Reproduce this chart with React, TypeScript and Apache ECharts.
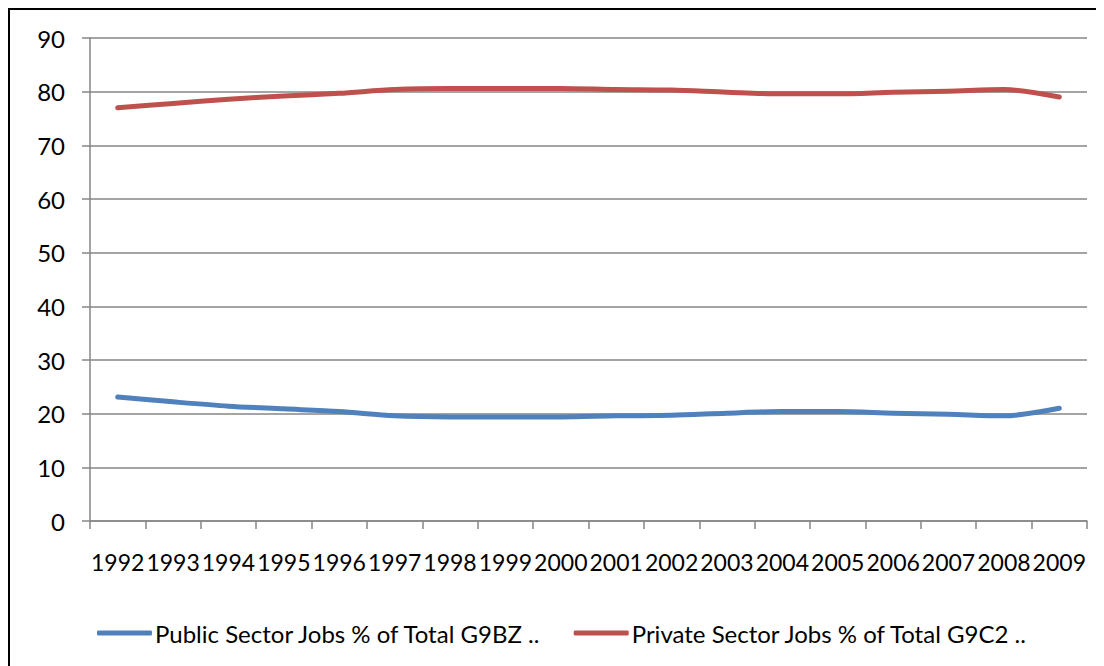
import React, { useEffect, useRef } from "react";
import * as echarts from "echarts";

const years = [
  "1992", "1993", "1994", "1995", "1996", "1997", "1998", "1999", "2000",
  "2001", "2002", "2003", "2004", "2005", "2006", "2007", "2008", "2009",
];
const publicShare = [
  23.1, 22.2, 21.4, 20.9, 20.4, 19.6, 19.4, 19.4, 19.4,
  19.6, 19.7, 20.1, 20.4, 20.4, 20.1, 19.9, 19.6, 21.0,
];
const privateShare = [
  77.0, 77.8, 78.6, 79.2, 79.7, 80.4, 80.6, 80.6, 80.6,
  80.4, 80.3, 79.9, 79.6, 79.6, 79.9, 80.1, 80.4, 79.0,
];
const seriesNames = [
  "Public Sector Jobs % of Total G9BZ ..",
  "Private Sector Jobs % of Total G9C2 ..",
];
const yMin = 0;
const yMax = 90;
const yStep = 10;

const FONT = "Lato, 'Open Sans', sans-serif";

export default function App() {
  const ref = useRef<HTMLDivElement>(null);
  useEffect(() => {
    if (!ref.current) return;
    const chart = echarts.init(ref.current, undefined, { renderer: "svg" });
    const axisGray = "#868686";
    chart.setOption({
      animation: false,
      backgroundColor: "#ffffff",
      textStyle: { fontFamily: FONT },
      grid: { left: 80, right: 17, top: 28, bottom: 145, containLabel: false },
      legend: {
        bottom: 16,
        left: 82,
        itemWidth: 55,
        itemHeight: 5,
        itemGap: 32,
        icon: "roundRect",
        textStyle: { fontFamily: FONT, fontSize: 24, color: "#000000", padding: [0, 0, 0, -2] },
        data: seriesNames,
      },
      xAxis: {
        type: "category",
        data: years,
        boundaryGap: true,
        axisLine: { show: true, lineStyle: { color: axisGray, width: 1.5 } },
        axisTick: { show: true, length: 8, alignWithLabel: false, lineStyle: { color: axisGray, width: 1.5 } },
        axisLabel: { color: "#000000", fontSize: 23, fontFamily: FONT, margin: 29, interval: 0 },
        splitLine: { show: false },
      },
      yAxis: {
        type: "value",
        min: yMin,
        max: yMax,
        interval: yStep,
        axisLine: { show: true, lineStyle: { color: axisGray, width: 1.5 } },
        axisTick: { show: true, length: 8, lineStyle: { color: axisGray, width: 1.5 } },
        axisLabel: { color: "#000000", fontSize: 24, fontFamily: FONT, margin: 25 },
        splitLine: { show: true, lineStyle: { color: axisGray, width: 1.5 } },
      },
      series: [
        {
          name: seriesNames[0],
          type: "line",
          data: publicShare,
          smooth: 0.3,
          symbol: "none",
          lineStyle: { color: "#4F81BD", width: 5, cap: "round", join: "round" },
          itemStyle: { color: "#4F81BD" },
        },
        {
          name: seriesNames[1],
          type: "line",
          data: privateShare,
          smooth: 0.3,
          symbol: "none",
          lineStyle: { color: "#C0504D", width: 5, cap: "round", join: "round" },
          itemStyle: { color: "#C0504D" },
        },
      ],
    });
    return () => chart.dispose();
  }, []);
  return (
    <div
      style={{
        borderTop: "2px solid #000",
        borderLeft: "2px solid #000",
        width: 1094,
        height: 656,
        background: "#fff",
      }}
    >
      <div ref={ref} style={{ width: 1094, height: 656 }} />
    </div>
  );
}
